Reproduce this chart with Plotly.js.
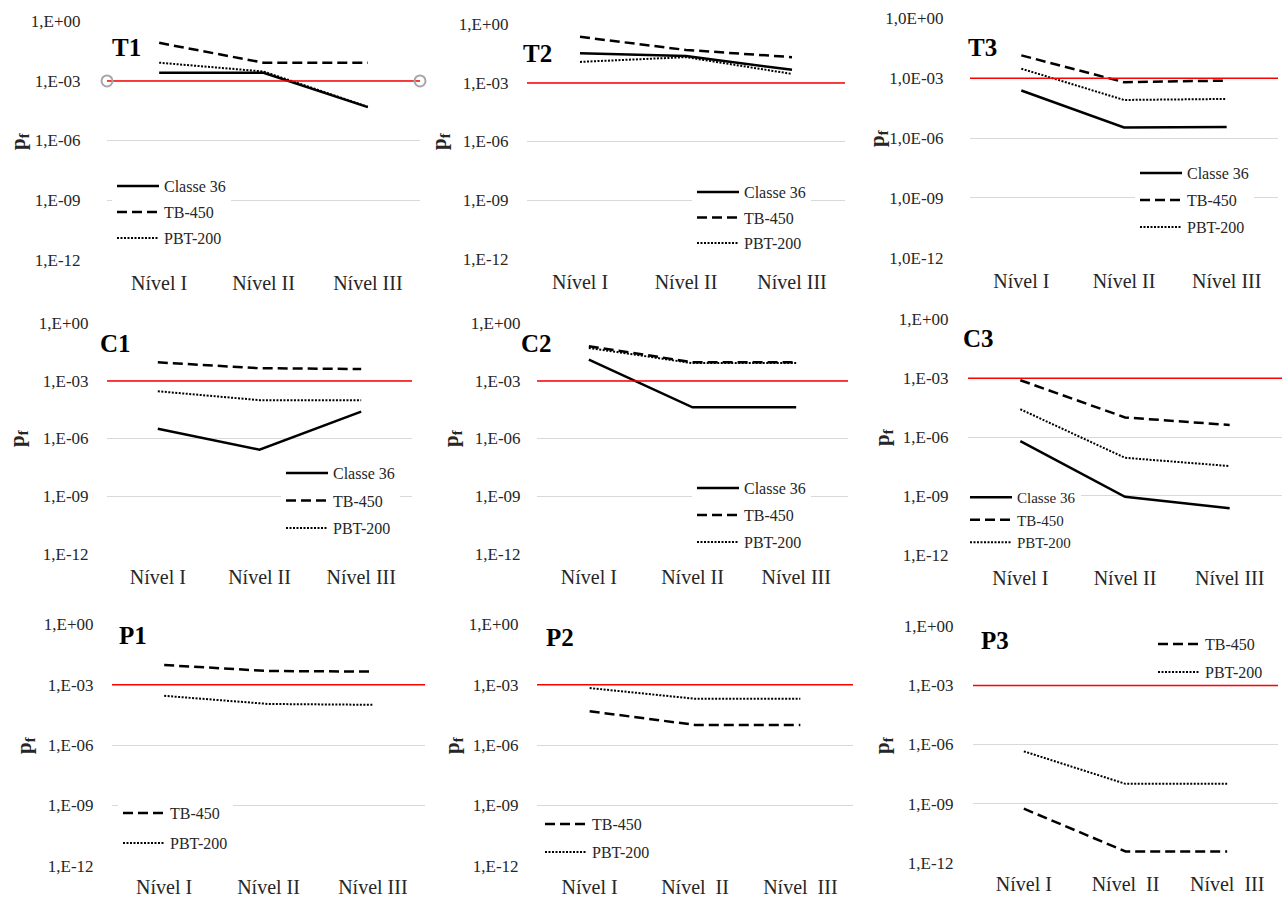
<!DOCTYPE html>
<html><head><meta charset="utf-8">
<script src="https://cdn.plot.ly/plotly-3.0.1.min.js"></script>
<style>html,body{margin:0;padding:0;background:#fff}#chart{width:1282px;height:897px}</style>
</head><body><div id="chart"></div>
<script>
// ---------- DATA ----------
const categories = ['Nível I', 'Nível II', 'Nível III'];
const categoriesP = ['Nível I', 'Nível\u00a0 II', 'Nível\u00a0 III'];
const seriesNames = ['Classe 36', 'TB-450', 'PBT-200'];
const panelNames = ['T1', 'T2', 'T3', 'C1', 'C2', 'C3', 'P1', 'P2', 'P3'];
const yTickVals = [1, 1e-3, 1e-6, 1e-9, 1e-12];
const yTickText = ['1,E+00', '1,E-03', '1,E-06', '1,E-09', '1,E-12'];
const yTickTextT3 = ['1,0E+00', '1,0E-03', '1,0E-06', '1,0E-09', '1,0E-12'];
const limitPf = 1e-3;

const T1_classe36 = [2.6e-3, 2.6e-3, 4.8e-5];
const T1_tb450    = [8.3e-2, 8.3e-3, 8.3e-3];
const T1_pbt200   = [8.3e-3, 3.0e-3, 5.0e-5];

const T2_classe36 = [3.3e-2, 2.4e-2, 4.7e-3];
const T2_tb450    = [2.3e-1, 4.9e-2, 2.1e-2];
const T2_pbt200   = [1.2e-2, 2.1e-2, 2.9e-3];

const T3_classe36 = [2.4e-4, 3.4e-6, 3.6e-6];
const T3_tb450    = [1.4e-2, 6.3e-4, 7.6e-4];
const T3_pbt200   = [3.0e-3, 8.1e-5, 9.1e-5];

const C1_classe36 = [3.2e-6, 2.6e-7, 2.5e-5];
const C1_tb450    = [9.3e-3, 4.6e-3, 4.2e-3];
const C1_pbt200   = [2.9e-4, 1.0e-4, 1.0e-4];

const C2_classe36 = [1.3e-2, 4.2e-5, 4.2e-5];
const C2_tb450    = [6.5e-2, 9.5e-3, 9.5e-3];
const C2_pbt200   = [5.2e-2, 8.5e-3, 8.5e-3];

const C3_classe36 = [6.2e-7, 8.9e-10, 2.3e-10];
const C3_tb450    = [7.9e-4, 1.0e-5, 4.1e-6];
const C3_pbt200   = [2.6e-5, 8.7e-8, 3.3e-8];

const P1_tb450    = [9.5e-3, 4.8e-3, 4.5e-3];
const P1_pbt200   = [2.8e-4, 1.1e-4, 1.0e-4];

const P2_tb450    = [4.8e-5, 1.0e-5, 1.0e-5];
const P2_pbt200   = [6.8e-4, 2.0e-4, 2.0e-4];

const P3_tb450    = [5.5e-10, 3.7e-12, 3.7e-12];
const P3_pbt200   = [4.5e-7, 1.0e-8, 1.0e-8];

const panelSeries = [
  [T1_classe36, T1_tb450, T1_pbt200],
  [T2_classe36, T2_tb450, T2_pbt200],
  [T3_classe36, T3_tb450, T3_pbt200],
  [C1_classe36, C1_tb450, C1_pbt200],
  [C2_classe36, C2_tb450, C2_pbt200],
  [C3_classe36, C3_tb450, C3_pbt200],
  [null, P1_tb450, P1_pbt200],
  [null, P2_tb450, P2_pbt200],
  [null, P3_tb450, P3_pbt200]
];

// ---------- LAYOUT GEOMETRY (pixels) ----------
const W = 1282, H = 897;
const geom = [
  {r:[107,420,21,260],  gap:25, xl:5, lg:[112,169], lgap:2.2, lf:16, ttl:[126,47],  pf:[19,141]},
  {r:[527,845,24,259],  gap:17, xl:5, lg:[692,175], lgap:1.7, lf:16, ttl:[537,53],  pf:[440,141]},
  {r:[970,1278,18,258], gap:25, xl:5, lg:[1135,156], lgap:3.2, lf:16, ttl:[982,47], pf:[878,138]},
  {r:[107,412,323,554], gap:17, xl:5, lg:[281,456], lgap:3.7, lf:16, ttl:[115,343], pf:[18,438]},
  {r:[537,848,323,554], gap:15, xl:5, lg:[692,471], lgap:3.2, lf:16, ttl:[536,343], pf:[452,438]},
  {r:[968,1282,319,555],gap:18, xl:5, lg:[965,481], lgap:0,   lf:15, ttl:[978,338], pf:[883,437]},
  {r:[112,425,624,866], gap:17, xl:3, lg:[118,796], lgap:6.2, lf:16, ttl:[133,635], pf:[25,745]},
  {r:[537,853,624,866], gap:17, xl:3, lg:[540,807], lgap:4.2, lf:16, ttl:[560,637], pf:[453,745]},
  {r:[973,1278,626,863],gap:18, xl:3, lg:[1153,627], lgap:4.2, lf:16, ttl:[995,640], pf:[883,745], clearLegend:true}
];

const lineStyles = [
  {color:'#000', width:2.5, dash:'solid'},
  {color:'#000', width:2.5, dash:'10px,5px'},
  {color:'#000', width:2, dash:'2px,1.5px'}
];

const FONT = "'Liberation Serif', 'Times New Roman', serif";
const TXT = '#262626';

const traces = [];
const layout = {
  width: W, height: H,
  margin: {l:0, r:0, t:0, b:0},
  paper_bgcolor: '#fff', plot_bgcolor: '#fff',
  showlegend: true,
  annotations: [],
  font: {family: FONT, color: TXT}
};

geom.forEach((g, i) => {
  const n = i + 1;
  const [l, r, t, b] = g.r;
  const xa = 'xaxis' + n, ya = 'yaxis' + n, xo = 'xaxis' + (n + 9);
  const cats = i >= 7 ? categoriesP : categories;
  layout[xa] = {
    domain: [l / W, r / W], anchor: 'y' + n, type: 'category',
    range: [-0.5, 2.5], showgrid: false, zeroline: false, showline: false,
    ticks: 'outside', ticklen: g.xl, tickcolor: 'rgba(0,0,0,0)',
    tickfont: {family: FONT, size: 20, color: TXT}, fixedrange: true
  };
  layout[ya] = {
    domain: [1 - b / H, 1 - t / H], anchor: 'x' + n, type: 'log',
    range: [-12.02, 0.02], tickmode: 'array', tickvals: yTickVals,
    ticktext: i === 2 ? yTickTextT3 : yTickText,
    showgrid: true, gridcolor: '#d9d9d9', gridwidth: 1, zeroline: false, showline: false,
    ticks: 'outside', ticklen: g.gap - 3, tickcolor: 'rgba(0,0,0,0)',
    tickfont: {family: FONT, size: 17, color: TXT}, fixedrange: true
  };
  layout[xo] = {overlaying: 'x' + n, anchor: 'y' + n, range: [0, 1], visible: false, fixedrange: true};

  // limit line pf = 1E-03
  const lim = {
    x: [0, 1], y: [limitPf, limitPf], xaxis: 'x' + (n + 9), yaxis: 'y' + n,
    mode: 'lines', line: {color: '#ff0000', width: 1.5}, showlegend: false, hoverinfo: 'skip'
  };
  if (i === 0) {
    lim.mode = 'lines+markers';
    lim.marker = {symbol: 'circle-open', size: 11, color: '#a6a6a6', line: {width: 2, color: '#a6a6a6'}};
    lim.cliponaxis = false;
  }
  traces.push(lim);

  const legId = n === 1 ? 'legend' : 'legend' + n;
  panelSeries[i].forEach((vals, k) => {
    if (!vals) return;
    traces.push({
      x: cats, y: vals, xaxis: 'x' + n, yaxis: 'y' + n,
      mode: 'lines', name: seriesNames[k], line: lineStyles[k],
      legend: legId, legendgroup: 'g' + n + '_' + k
    });
  });
  layout[legId] = {
    x: g.lg[0] / W, y: 1 - g.lg[1] / H, xanchor: 'left', yanchor: 'top',
    bgcolor: g.clearLegend ? 'rgba(255,255,255,0)' : '#fff', borderwidth: 0,
    itemwidth: 42, tracegroupgap: g.lgap,
    font: {family: FONT, size: g.lf, color: TXT}
  };

  layout.annotations.push({
    xref: 'paper', yref: 'paper', x: g.ttl[0] / W, y: 1 - g.ttl[1] / H,
    xanchor: 'center', yanchor: 'middle', showarrow: false,
    text: '<b>' + panelNames[i] + '</b>', font: {family: FONT, size: 25, color: '#000'}
  });
  layout.annotations.push({
    xref: 'paper', yref: 'paper', x: g.pf[0] / W, y: 1 - g.pf[1] / H,
    xanchor: 'center', yanchor: 'middle', showarrow: false, textangle: -90,
    text: '<b>p<sub>f</sub></b>', font: {family: FONT, size: 21, color: TXT}
  });
});

Plotly.newPlot('chart', traces, layout, {displayModeBar: false, staticPlot: true});
</script></body></html>
